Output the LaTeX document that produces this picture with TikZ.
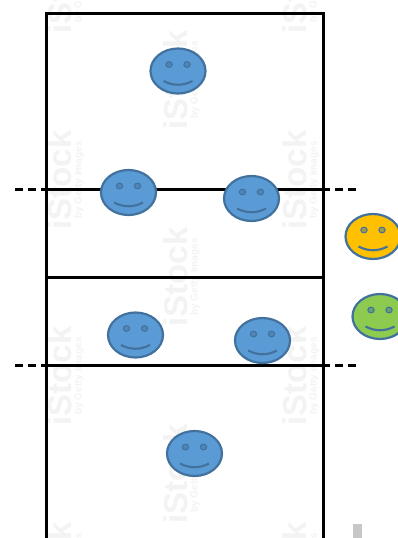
\documentclass[tikz,border=0pt]{standalone}
\usepackage{fontspec}
\setmainfont{Liberation Sans}
\usetikzlibrary{shapes.geometric}
\definecolor{faceblue}{HTML}{5B9BD5}
\definecolor{faceedge}{HTML}{41719C}
\definecolor{faceyellow}{HTML}{FFC000}
\definecolor{facegreen}{HTML}{8CCB4F}
\definecolor{mark}{HTML}{F3F3F3}
\tikzset{
  court/.style={line width=3pt,black},
  netline/.style={line width=3pt,black,dash pattern=on 8pt off 5pt},
  wmbig/.style={rotate=90,text=mark,font=\bfseries\fontsize{33}{33}\selectfont,inner sep=0pt},
  wmsmall/.style={rotate=90,text=mark,font=\bfseries\fontsize{10}{10}\selectfont,inner sep=0pt},
  facebody/.style={draw=faceedge,line width=2.2pt,minimum width=55pt,minimum height=45pt,ellipse,inner sep=0pt},
}
\newcommand{\wmark}[3]{%
  \node[wmbig] (#3a) at (#1,#2) {iStock};
  \node[wmsmall] (#3b) at (#1+19,#2) {by Getty Images};
}
\newcommand{\smiley}[4]{%
  \node[facebody,fill=#4] (#3) at (#1,#2) {};
  \filldraw[fill=#4!50!faceedge,draw=faceedge,line width=1pt] (#1-9,#2-6.5) ellipse (3.2 and 2.9);
  \filldraw[fill=#4!50!faceedge,draw=faceedge,line width=1pt] (#1+9,#2-6.5) ellipse (3.2 and 2.9);
  \draw[faceedge,line width=2.1pt] (#1-14.5,#2+10) .. controls (#1-5,#2+15) and (#1+5,#2+15) .. (#1+14.5,#2+10);
}
\begin{document}
\begin{tikzpicture}[x=1pt,y=-1pt]
\useasboundingbox (0,0) rectangle (398,538);
\clip (0,0) rectangle (398,538);
\fill[white] (0,0) rectangle (398,538);
\wmark{60}{-16}{wa}
\wmark{295}{-16}{wb}
\wmark{60}{180}{wc}
\wmark{295}{180}{wd}
\wmark{60}{376}{we}
\wmark{295}{376}{wf}
\wmark{176}{80}{wg}
\wmark{176}{277}{wh}
\wmark{176}{474}{wi}
\wmark{60}{572}{wj}
\wmark{295}{572}{wk}
\fill[black!22] (353,524) rectangle (362,538);
\coordinate (tl) at (46,13);
\coordinate (tr) at (323.5,13);
\coordinate (bl) at (46,540);
\coordinate (br) at (323.5,540);
\coordinate (ml) at (46,277.5);
\coordinate (mr) at (323.5,277.5);
\coordinate (nal) at (46,189.5);
\coordinate (nar) at (323.5,189.5);
\coordinate (nbl) at (46,365.5);
\coordinate (nbr) at (323.5,365.5);
\coordinate (dal) at (15,189.5);
\coordinate (dar) at (356,189.5);
\coordinate (dbl) at (15,365.5);
\coordinate (dbr) at (356,365.5);
\draw[court,line join=miter] (bl) -- (tl) -- (tr) -- (br);
\draw[court] (ml) -- (mr);
\draw[court] (nal) -- (nar);
\draw[court] (nbl) -- (nbr);
\draw[netline] (dal) -- (nal);
\draw[netline] (dar) -- (nar);
\draw[netline] (dbl) -- (nbl);
\draw[netline] (dbr) -- (nbr);
\smiley{178}{71}{pa}{faceblue}
\smiley{128.5}{192.5}{pb}{faceblue}
\smiley{251.5}{198.5}{pc}{faceblue}
\smiley{135.5}{335}{pd}{faceblue}
\smiley{262.5}{340.5}{pe}{faceblue}
\smiley{194.5}{453.5}{pf}{faceblue}
\smiley{373}{236.5}{pg}{faceyellow}
\smiley{380}{316.5}{ph}{facegreen}
\end{tikzpicture}
\end{document}
